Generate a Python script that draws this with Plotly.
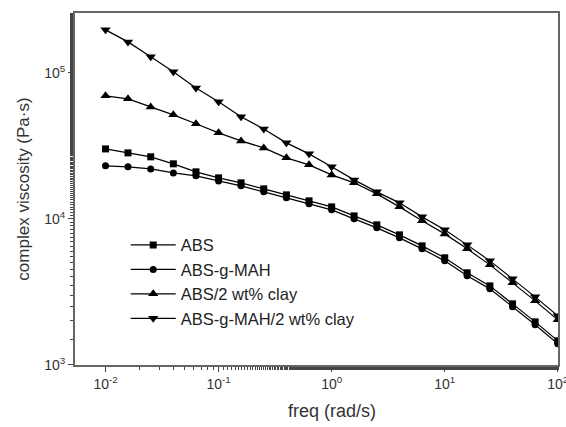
import plotly.graph_objects as go

freq = [0.01, 0.0158, 0.0251, 0.0398, 0.0631, 0.1, 0.158, 0.251, 0.398, 0.631,
        1, 1.58, 2.51, 3.98, 6.31, 10, 15.8, 25.1, 39.8, 63.1, 100]

abs_v = [30130, 28310, 26600, 23820, 20990, 19090, 17650, 16050, 14600, 13280,
         12080, 10480, 9100, 7770, 6530, 5410, 4270, 3475, 2617, 1970, 1460]
abs_gmah = [23070, 22710, 21990, 20650, 19700, 18200, 16830, 15310, 13930, 12670,
            11530, 10000, 8680, 7410, 6230, 5155, 4070, 3315, 2496, 1880, 1393]
abs_clay = [69570, 66370, 58480, 51550, 44770, 38810, 34200, 30620, 26180, 23440,
            20000, 17650, 14830, 12080, 9690, 7890, 6230, 4840, 3645, 2744, 2033]
abs_gmah_clay = [197000, 163000, 128800, 101600, 78900, 63300, 50000, 41300, 33150, 27870,
                 22710, 18490, 15310, 12870, 10320, 8410, 6635, 5155, 3882, 2923, 2166]

names = ["ABS", "ABS-g-MAH", "ABS/2 wt% clay", "ABS-g-MAH/2 wt% clay"]
series = [abs_v, abs_gmah, abs_clay, abs_gmah_clay]
symbols = ["square", "circle", "triangle-up", "triangle-down"]
sizes = [7, 7, 9, 9]

xtickvals = [0.01, 0.1, 1, 10, 100]
xticktext = ["10<sup>-2</sup>", "10<sup>-1</sup>", "10<sup>0</sup>", "10<sup>1</sup>", "10<sup>2</sup>"]
ytickvals = [1000, 10000, 100000]
yticktext = ["10<sup>3</sup>", "10<sup>4</sup>", "10<sup>5</sup>"]

FONT = "Liberation Sans, Arial, sans-serif"

fig = go.Figure()
for name, ys, sym, sz in zip(names, series, symbols, sizes):
    fig.add_trace(go.Scatter(
        x=freq, y=ys, name=name, mode="lines+markers",
        line=dict(color="black", width=1.2),
        marker=dict(symbol=sym, size=sz, color="black"),
    ))

axis_common = dict(
    type="log", showgrid=False, zeroline=False, automargin=False,
    ticklabeloverflow="allow",
    showline=True, linecolor="#666", linewidth=2, mirror=True,
    ticks="outside", ticklen=5, tickwidth=1.2, tickcolor="#444",
    tickfont=dict(family=FONT, size=14, color="#333"),
    minor=dict(ticks="outside", ticklen=3, tickwidth=1, tickcolor="#444", showgrid=False),
)

fig.update_xaxes(**axis_common, range=[-2.27, 2.002],
                 tickvals=xtickvals, ticktext=xticktext)
fig.update_yaxes(**axis_common, range=[2.999, 5.41],
                 tickvals=ytickvals, ticktext=yticktext,
                 title=dict(text="complex viscosity (Pa·s)", standoff=10,
                            font=dict(family=FONT, size=17, color="#333")))

fig.add_annotation(
    text="freq (rad/s)", xref="paper", yref="paper",
    x=0.532, y=-0.131, xanchor="center", yanchor="middle",
    showarrow=False, font=dict(family=FONT, size=18, color="#333"),
)

fig.update_layout(
    width=566, height=427,
    margin=dict(l=75, r=8, t=13, b=62),
    paper_bgcolor="white", plot_bgcolor="white",
    legend=dict(x=0.105, y=0.39, xanchor="left", yanchor="top",
                bgcolor="rgba(0,0,0,0)", tracegroupgap=0, itemwidth=45,
                font=dict(family=FONT, size=16.5, color="#222")),
    showlegend=True,
)

fig.write_html("out.html")
